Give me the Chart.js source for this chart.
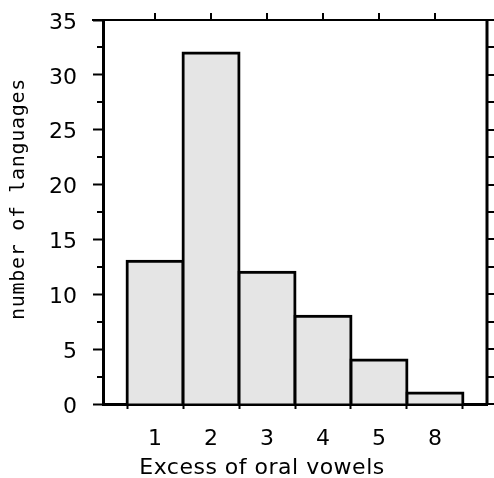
<!DOCTYPE html>
<html>
<head>
<meta charset="utf-8">
<script src="https://cdn.jsdelivr.net/npm/chart.js@4"></script>
<style>
    body { margin: 0; background: #fff; }
    #wrap { width: 494px; height: 478px; }
</style>
</head>
<body>
<div id="wrap"><canvas id="histChart" width="494" height="478"></canvas></div>
<script>
// Data
const categories = ['1', '2', '3', '4', '5', '8'];
const languageCounts = [13, 32, 12, 8, 4, 1];
const yTicks = [0, 5, 10, 15, 20, 25, 30, 35];
const yMinorTicks = [2.5, 7.5, 12.5, 17.5, 22.5, 27.5, 32.5];
const xTitle = 'Excess of oral vowels';
const yTitle = 'number of languages';

const barData = categories.map((c, i) => ({ x: i + 1, y: languageCounts[i] }));

// Frame: minor ticks on the left, plain ticked axes on the top and right, axis titles
const framePlugin = {
    id: 'frame',
    afterDraw(chart) {
        const { ctx, chartArea: area, scales: { x, y } } = chart;
        ctx.save();
        ctx.strokeStyle = '#000';

        // left minor ticks
        ctx.lineWidth = 2;
        yMinorTicks.forEach(v => {
            const py = Math.round(y.getPixelForValue(v));
            ctx.beginPath();
            ctx.moveTo(area.left - 6, py);
            ctx.lineTo(area.left, py);
            ctx.stroke();
        });

        // top line and ticks
        ctx.beginPath();
        ctx.moveTo(area.left - 11, area.top);
        ctx.lineTo(area.right + 3, area.top);
        ctx.stroke();
        categories.forEach((c, i) => {
            const px = Math.round(x.getPixelForValue(i + 1));
            ctx.beginPath();
            ctx.moveTo(px, area.top);
            ctx.lineTo(px, area.top - 7);
            ctx.stroke();
        });

        // right line and ticks
        ctx.lineWidth = 3;
        ctx.beginPath();
        ctx.moveTo(area.right, area.top);
        ctx.lineTo(area.right, area.bottom);
        ctx.stroke();
        ctx.lineWidth = 2;
        yTicks.concat(yMinorTicks).forEach(v => {
            const py = Math.round(y.getPixelForValue(v));
            ctx.beginPath();
            ctx.moveTo(area.right, py);
            ctx.lineTo(area.right + 10, py);
            ctx.stroke();
        });

        // axis titles
        ctx.fillStyle = '#000';
        ctx.textAlign = 'center';
        ctx.textBaseline = 'alphabetic';
        ctx.font = '22px "DejaVu Sans"';
        ctx.letterSpacing = '0.5px';
        ctx.fillText(xTitle, 262, 474);

        ctx.translate(24, 199);
        ctx.rotate(-Math.PI / 2);
        ctx.font = '20px "DejaVu Sans Mono"';
        ctx.letterSpacing = '0.7px';
        ctx.fillText(yTitle, 0, 0);
        ctx.restore();
    }
};

new Chart(document.getElementById('histChart'), {
    type: 'bar',
    data: {
        datasets: [{
            data: barData,
            backgroundColor: '#e5e5e5',
            borderColor: '#000',
            borderWidth: 3,
            inflateAmount: 1.5,
            barPercentage: 1,
            categoryPercentage: 1
        }]
    },
    options: {
        responsive: false,
        animation: false,
        layout: { padding: { top: 20, right: 7, left: 0, bottom: 0 } },
        plugins: {
            legend: { display: false },
            tooltip: { enabled: false }
        },
        scales: {
            x: {
                type: 'linear',
                min: 0.07,
                max: 6.93,
                offset: false,
                afterBuildTicks: (scale) => {
                    scale.ticks = categories.map((c, i) => ({ value: i + 1 }));
                },
                afterFit: (scale) => {
                    scale.height = 74;
                    scale.paddingLeft = 0;
                    scale.paddingRight = 0;
                },
                border: { color: '#000', width: 3 },
                grid: {
                    drawOnChartArea: false,
                    tickLength: 5,
                    tickWidth: 2,
                    tickColor: '#000'
                },
                ticks: {
                    color: '#000',
                    font: { family: 'DejaVu Sans', size: 22 },
                    padding: 17,
                    maxRotation: 0,
                    autoSkip: false,
                    callback: (value) => categories[value - 1]
                }
            },
            y: {
                min: 0,
                max: 35,
                afterBuildTicks: (scale) => {
                    scale.ticks = yTicks.map(v => ({ value: v }));
                },
                afterFit: (scale) => {
                    scale.width = 103;
                    scale.paddingTop = 0;
                    scale.paddingBottom = 0;
                },
                border: { color: '#000', width: 3 },
                grid: {
                    drawOnChartArea: false,
                    tickLength: 10,
                    tickWidth: 2,
                    tickColor: '#000'
                },
                ticks: {
                    color: '#000',
                    font: { family: 'DejaVu Sans', size: 22 },
                    padding: 16,
                    labelOffset: 3
                }
            }
        }
    },
    plugins: [framePlugin]
});
</script>
</body>
</html>
